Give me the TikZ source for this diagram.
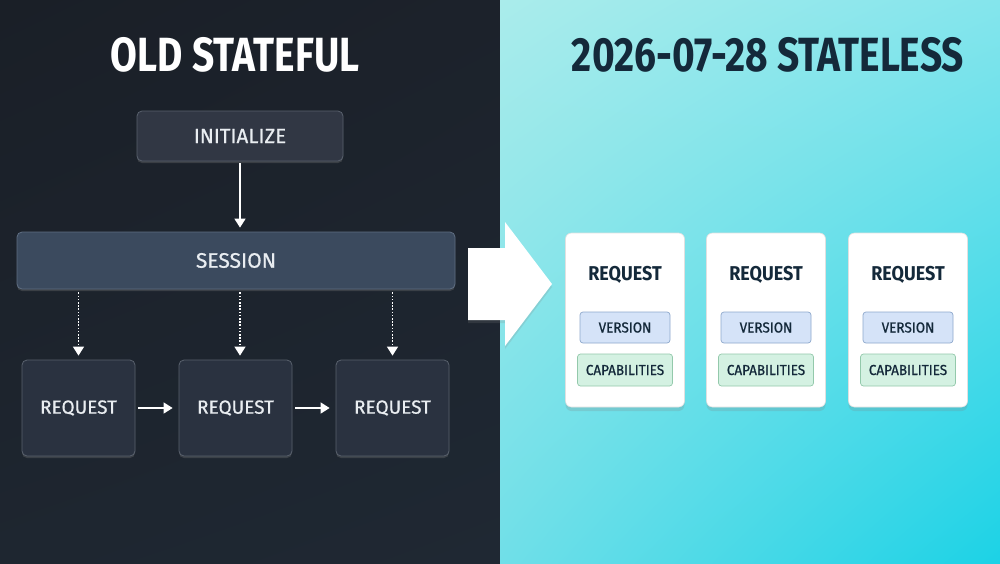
\documentclass[tikz,border=0pt]{standalone}
\usepackage{fontspec}
\setmainfont{Fira Sans}
\newfontfamily\headfont[FakeStretch=0.81]{Fira Sans}
\newfontfamily\narrowfont[FakeStretch=0.9]{Fira Sans}
\newfontfamily\boxfont[FakeBold=0.6]{Fira Sans}
\newfontfamily\tagfont[FakeStretch=0.93,FakeBold=0.8]{Fira Sans}
\usepackage{xcolor}
\usetikzlibrary{arrows.meta,positioning,shadows,shadings}

\definecolor{boxfill}{HTML}{2A3240}
\definecolor{boxline}{HTML}{59616D}
\definecolor{initfill}{HTML}{313744}
\definecolor{sessfill}{HTML}{3B4A5E}
\definecolor{sessline}{HTML}{5F6E82}
\definecolor{lighttext}{HTML}{E9EDF1}
\definecolor{inktext}{HTML}{14293A}
\definecolor{verfill}{HTML}{D5E3F8}
\definecolor{verline}{HTML}{8EA8CC}
\definecolor{capfill}{HTML}{D4F1E2}
\definecolor{capline}{HTML}{93C9AB}
\definecolor{darkul}{HTML}{1A1F27}
\definecolor{darkur}{HTML}{1C222B}
\definecolor{darkll}{HTML}{1E2630}
\definecolor{darklr}{HTML}{1F2833}
\definecolor{cyanul}{HTML}{AAECEB}
\definecolor{cyanur}{HTML}{84E5EC}
\definecolor{cyanll}{HTML}{70DFE8}
\definecolor{cyanlr}{HTML}{1CD2E6}

\begin{document}
\begin{tikzpicture}[x=1pt, y=-1pt,
  darkbox/.style={draw=boxline, fill=boxfill, rounded corners=5pt, line width=0.8pt,
                  text=lighttext, font=\boxfont\fontsize{19}{22}\selectfont,
                  drop shadow={opacity=0.3, shadow xshift=0pt, shadow yshift=-2pt}},
  card/.style={fill=white, draw=white!88!black, rounded corners=6pt, line width=0.6pt,
               minimum width=119pt, minimum height=174pt,
               drop shadow={opacity=0.22, shadow xshift=0pt, shadow yshift=-4pt}},
  cardtitle/.style={text=inktext, font=\narrowfont\bfseries\fontsize{20}{22}\selectfont},
  tag/.style={rounded corners=3pt, line width=0.7pt, text=inktext,
              font=\tagfont\fontsize{14.5}{16}\selectfont},
  arr/.style={-{Triangle[length=9pt, width=11pt]}, white, line width=1.6pt},
  dotarr/.style={-{Triangle[length=9pt, width=11pt]}, white, line width=1.4pt,
                 dash pattern=on 1.6pt off 1.6pt}]

  % two halves
  \useasboundingbox (0,0) rectangle (1000,563);
  \shade[upper left=darkul, upper right=darkur, lower left=darkll, lower right=darklr]
        (0,0) rectangle (500,563);
  \shade[upper left=cyanul, upper right=cyanur, lower left=cyanll, lower right=cyanlr]
        (500,0) rectangle (1000,563);

  % titles
  \node[text=white, font=\headfont\bfseries\fontsize{48}{50}\selectfont] (lt) at (235,55) {OLD STATEFUL};
  \node[text=inktext, font=\headfont\bfseries\fontsize{48}{50}\selectfont] (rt) at (768,55) {2026-07-28 STATELESS};

  % stateful side
  \node[darkbox, fill=initfill, minimum width=206pt, minimum height=50pt,
        font=\boxfont\fontsize{20.5}{22}\selectfont] (init) at (240,136) {INITIALIZE};
  \node[darkbox, fill=sessfill, draw=sessline, minimum width=438pt, minimum height=57pt,
        font=\boxfont\fontsize{21}{22}\selectfont] (sess) at (236,260.5) {SESSION};
  \node[darkbox, minimum width=113pt, minimum height=96pt] (r1) at (78.5,408) {REQUEST};
  \node[darkbox, minimum width=113pt, minimum height=96pt] (r2) at (235.5,408) {REQUEST};
  \node[darkbox, minimum width=113pt, minimum height=96pt] (r3) at (392.5,408) {REQUEST};
  \draw[arr, shorten <=2pt, shorten >=4pt] (init) -- (init |- sess.north);
  \draw[dotarr, shorten <=3pt, shorten >=4pt] (sess.south -| r1) -- (r1);
  \draw[dotarr, shorten <=3pt, shorten >=4pt] (sess.south -| init) -- (r2.north -| init);
  \draw[dotarr, shorten <=3pt, shorten >=4pt] (sess.south -| r3) -- (r3);
  \draw[arr, shorten <=3pt, shorten >=6pt] (r1) -- (r2);
  \draw[arr, shorten <=3pt, shorten >=6pt] (r2) -- (r3);

  % the big arrow
  \fill[white, drop shadow={opacity=0.2, shadow xshift=0pt, shadow yshift=-3pt}]
    (468,248) -- (505,248) -- (505,222) -- (552,284) -- (505,346) -- (505,320) -- (468,320) -- cycle;

  % stateless side
  \node[card] (c1) at (625,320) {};
  \node[card] (c2) at (766,320) {};
  \node[card] (c3) at (908,320) {};
  \node[cardtitle] (t1) at (625,275) {REQUEST};
  \node[cardtitle] (t2) at (766,275) {REQUEST};
  \node[cardtitle] (t3) at (908,275) {REQUEST};
  \node[tag, fill=verfill, draw=verline, minimum width=90pt, minimum height=31pt] (v1) at (625,327.5) {VERSION};
  \node[tag, fill=verfill, draw=verline, minimum width=90pt, minimum height=31pt] (v2) at (766,327.5) {VERSION};
  \node[tag, fill=verfill, draw=verline, minimum width=90pt, minimum height=31pt] (v3) at (908,327.5) {VERSION};
  \node[tag, fill=capfill, draw=capline, minimum width=95pt, minimum height=32pt] (k1) at (625,370) {CAPABILITIES};
  \node[tag, fill=capfill, draw=capline, minimum width=95pt, minimum height=32pt] (k2) at (766,370) {CAPABILITIES};
  \node[tag, fill=capfill, draw=capline, minimum width=95pt, minimum height=32pt] (k3) at (908,370) {CAPABILITIES};
\end{tikzpicture}
\end{document}
